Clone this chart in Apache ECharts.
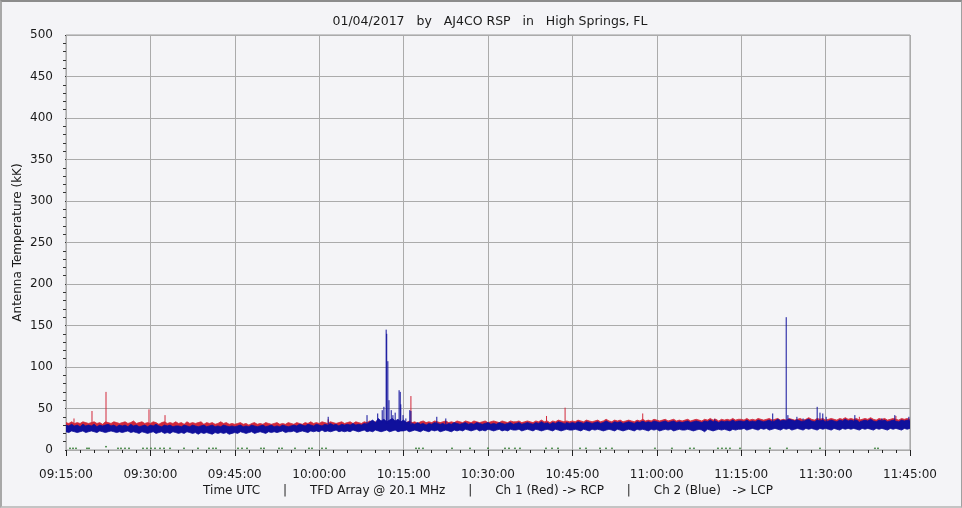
<!DOCTYPE html>
<html>
<head>
<meta charset="utf-8">
<script src="https://cdn.jsdelivr.net/npm/echarts@6/dist/echarts.min.js"></script>
<style>
html,body{margin:0;padding:0;background:#f4f4f7;}
#wrap{position:relative;width:962px;height:508px;}
#chart{position:absolute;left:0;top:0;width:962px;height:508px;}
#frame{position:absolute;left:0;top:0;width:962px;height:508px;box-sizing:border-box;
  border-top:2px solid #8c8c8c;border-left:2px solid #a8a8a8;border-right:1px solid #a0a0a0;border-bottom:2px solid #c4c4c4;pointer-events:none;}
</style>
</head>
<body>
<div id="wrap"><div id="chart"></div><div id="frame"></div></div>
<script>
// ---- data (minutes after 09:15:00 UTC, values in kK) ----
const titleText = "01/04/2017   by   AJ4CO RSP   in   High Springs, FL";
const yAxisName = "Antenna Temperature (kK)";
const xAxisName = "Time UTC      |      TFD Array @ 20.1 MHz      |      Ch 1 (Red) -> RCP      |      Ch 2 (Blue)   -> LCP";
const xTickLabels = ["09:15:00","09:30:00","09:45:00","10:00:00","10:15:00","10:30:00","10:45:00","11:00:00","11:15:00","11:30:00","11:45:00"];

// Ch1 (red) noise band upper envelope, one value every 30 s
const redHi = [
33,32,34,32,33,32,34,33,32,33,34,32,33,31,34,33,32,34,33,32,
33,34,32,33,35,32,33,34,32,33,32,34,33,31,33,34,32,33,32,34,
32,33,31,34,32,33,32,33,34,31,33,32,33,31,32,34,32,33,31,32,
31,32,33,31,32,30,32,33,31,32,31,33,32,31,32,33,31,32,31,33,
32,31,33,32,31,33,32,34,32,33,32,34,33,32,34,33,32,33,34,32,
33,34,32,34,33,32,34,33,35,33,34,32,34,33,35,33,34,35,33,34,
34,33,35,33,34,32,34,35,33,34,33,35,34,33,34,35,33,34,33,35,
34,33,35,34,33,35,34,33,34,35,33,34,35,34,33,35,34,33,35,34,
34,35,33,34,35,34,33,35,34,36,34,35,33,35,34,36,35,34,35,34,
35,34,36,35,34,36,35,34,35,36,34,35,37,35,34,36,35,36,34,35,
36,35,34,36,35,37,35,36,35,37,36,35,36,37,35,36,37,35,36,35,
36,37,35,36,37,36,35,37,36,38,36,37,35,37,36,37,36,38,36,37,
37,36,38,36,37,36,38,37,36,37,38,36,37,38,36,37,36,38,37,36,
37,38,36,37,39,37,36,38,37,38,36,37,38,37,36,38,37,39,37,38,
37,38,36,37,38,37,39,37,36,38,37,38,36,37,38,37,36,38,37,38,
37];
// Ch1 lower envelope, one value per minute (mostly hidden under Ch2)
const redLo = [
26,27,26,27,26,26,27,26,27,26,26,27,26,27,26,
26,26,25,26,25,26,25,26,26,25,26,25,26,25,26,
26,25,26,26,25,26,26,27,26,27,26,27,26,27,27,
27,26,27,28,27,27,28,27,27,28,27,27,28,27,27,
28,27,28,27,28,28,27,28,27,28,28,27,28,27,28,
28,27,29,28,28,27,29,28,28,29,28,27,29,28,28,
28,29,28,28,29,28,28,29,28,28,29,29,28,28,29,
29,28,29,28,29,29,28,29,29,28,29,29,28,29,29,
29,30,29,29,30,29,29,30,29,30,29,29,30,29,29,
30,29,29,30,29,30,29,29,30,29,30,29,29,30,29,30];

// Ch2 (blue) noise band, one value every 30 s
const blueHi = [
30,29,31,29,30,28,31,29,30,29,31,28,30,29,30,31,29,30,28,30,
29,30,28,31,29,30,28,29,30,28,30,29,31,29,28,30,29,30,28,29,
29,28,30,29,28,30,29,28,29,30,28,29,30,28,29,28,30,29,28,29,
28,29,30,28,29,28,30,29,28,29,30,28,29,30,28,29,28,30,29,28,
29,30,29,31,30,29,31,30,29,31,30,29,31,30,32,30,31,29,31,30,
31,30,32,30,31,30,32,31,34,36,33,38,35,37,34,36,38,35,37,34,
36,33,34,32,31,33,31,32,30,32,31,33,32,31,32,30,32,31,33,32,
31,32,33,31,32,31,33,32,31,32,33,31,32,31,33,32,31,32,33,31,
32,33,31,32,33,32,31,33,32,34,32,33,31,33,32,34,33,32,33,32,
33,32,34,33,32,34,33,32,33,34,32,33,35,33,32,34,33,34,32,33,
34,33,32,34,33,35,33,34,33,35,34,33,34,35,33,34,35,33,34,33,
34,35,33,34,35,34,33,35,34,36,34,35,33,35,34,35,34,36,34,35,
35,34,36,34,35,34,36,35,34,35,36,34,35,37,35,36,35,37,36,35,
36,35,34,36,37,35,34,36,35,36,34,35,36,35,34,36,35,37,35,36,
35,36,34,35,36,35,37,35,34,36,35,36,34,35,36,35,34,36,35,36,
35];
const blueLo = [
22,21,23,22,21,22,23,21,22,23,22,21,23,22,21,22,23,22,21,22,
21,22,23,21,22,21,20,22,21,20,21,22,20,21,22,20,21,20,22,21,
20,21,20,22,21,20,21,19,21,20,21,20,19,21,20,21,20,21,19,20,
21,20,22,21,20,21,22,20,21,22,21,20,22,21,22,21,22,23,21,22,
22,23,21,22,23,22,21,23,22,23,22,24,22,23,22,23,24,22,23,22,
23,22,24,23,22,23,24,22,23,22,24,23,22,23,24,22,23,24,22,23,
23,24,22,23,24,23,22,24,23,22,24,23,24,22,23,24,23,22,24,23,
24,23,25,24,23,24,25,23,24,23,25,24,23,24,25,23,24,23,25,24,
24,25,23,24,25,24,23,25,24,23,24,25,24,23,25,24,23,24,25,24,
24,25,24,23,25,24,23,25,24,25,24,23,24,25,24,23,25,24,23,24,
25,24,23,25,24,25,24,23,25,24,25,23,24,25,24,25,23,24,25,24,
24,25,24,23,24,25,24,22,25,24,23,24,25,24,25,24,23,25,24,25,
25,26,24,25,26,25,24,26,25,26,24,25,26,25,24,26,25,26,24,25,
26,25,24,26,25,26,25,24,26,25,26,25,24,26,25,24,26,25,26,25,
26,25,24,26,25,26,25,24,26,25,26,25,24,26,25,26,25,24,26,25,
26];

// isolated spikes: [minute, peak value]
const redSpikes = [[1.42,38],[4.62,47],[7.11,70],[14.75,49],[17.6,42],[46.6,37],[61.3,65],[85.4,41],[88.7,51],[102.5,44],[115.3,38],[141.0,40],[147.5,41]];
const blueSpikes = [[46.6,40],[53.5,42],[55.4,44],[56.2,48],[56.5,52],[56.9,145],[57.0,140],[57.2,107],[57.4,60],[57.8,48],[58.1,42],[58.5,45],
  [59.2,72],[59.4,70],[59.5,55],[59.9,42],[60.4,38],[61.1,48],[61.3,47],[65.9,40],[67.5,38],[115.3,37],[125.6,44],[128.0,160],[128.3,42],
  [129.9,40],[131.0,38],[133.5,52],[134.0,45],[134.5,44],[135.1,40],[140.2,42],[145.0,38],[147.3,42],[149.8,40]];

// green channel points near zero
const greenTimes = [0.71,1.24,1.78,3.73,4.09,7.11,9.24,9.77,10.48,11.2,13.68,14.39,15.1,15.82,16.71,17.42,18.49,20.97,23.46,25.41,26.12,26.66,
  30.57,31.28,32.17,34.65,35.19,37.85,38.39,40.7,43.18,43.72,45.5,46.21,62.2,62.73,63.44,68.6,71.8,75.0,78.02,78.73,79.79,80.68,85.3,86.37,
  87.44,91.35,92.41,94.9,95.97,97.03,104.67,107.69,110.89,111.6,115.87,116.58,117.29,118.0,119.78,125.11,128.13,134.0,143.77,144.31];
const greenVals = [2,2,2,2,2,4,2,2,2,2,2,2,2,2,2,2,2,2,2,2,2,2,2,2,2,2,2,2,2,2,2,2,2,2,2,2,2,2,2,2,2,2,2,2,2,2,2,2,2,2,2,2,2,2,2,2,2,2,2,2,2,2,2,2,2,2];

// ---- build series ----
const RED = '#d2283a', BLUE = '#10109c', GREEN = '#2f7a2f';
const halfMin = redHi.map((_, i) => i * 0.5);
const fullMin = redLo.map((_, i) => i);
function spikeData(spikes, band){
  const out = [];
  spikes.forEach(([t, v]) => {
    const base = band[Math.min(band.length - 1, Math.round(t * 2))] - 2;
    out.push([t, base], [t, v], [t, '-']);
  });
  return out;
}
function bandSeries(tLo, lo, tHi, hi, color){
  return {
    type: 'custom', silent: true, clip: true,
    data: tHi.map((t, i) => [t, hi[i]]),
    encode: {x: 0, y: 1},
    renderItem: function(params, api){
      if (params.dataIndex !== 0) return null;
      const top = tHi.map((t, i) => api.coord([t, hi[i]]));
      const bot = tLo.map((t, i) => api.coord([t, lo[i]]));
      const poly = top.concat(bot.reverse());
      return {type: 'polygon', shape: {points: poly}, style: {fill: color, stroke: color, lineWidth: 0.8}};
    }
  };
}
const chart = echarts.init(document.getElementById('chart'), null, {renderer: 'canvas'});
const FONT = 'DejaVu Sans';
chart.setOption({
  animation: false,
  backgroundColor: '#f4f4f7',
  title: {text: titleText, left: 485, top: 10, textAlign: 'center',
    textStyle: {fontFamily: FONT, fontSize: 12.5, fontWeight: 'normal', color: '#1a1a1a'}},
  grid: {left: 66, right: 52, top: 35, bottom: 58, show: true, borderColor: '#9a9a9a', borderWidth: 1, backgroundColor: 'transparent'},
  xAxis: {
    type: 'value', min: 0, max: 150, interval: 15, offset: 4,
    name: xAxisName, nameLocation: 'middle', nameGap: 31, nameMoveOverlap: false,
    nameTextStyle: {fontFamily: FONT, fontSize: 12, color: '#1a1a1a'},
    axisLine: {show: false},
    axisTick: {show: true, length: 6, lineStyle: {color: '#222'}},
    minorTick: {show: true, splitNumber: 6, length: 3, lineStyle: {color: '#222'}},
    axisLabel: {margin: 15, fontFamily: FONT, fontSize: 12, color: '#1a1a1a',
      formatter: v => xTickLabels[Math.round(v / 15)]},
    splitLine: {show: true, lineStyle: {color: '#ababab', width: 1}}
  },
  yAxis: {
    type: 'value', min: 0, max: 500, interval: 50, offset: 6,
    name: yAxisName, nameLocation: 'middle', nameGap: 36, nameMoveOverlap: false,
    nameTextStyle: {fontFamily: FONT, fontSize: 12, color: '#1a1a1a'},
    axisLine: {show: false},
    axisTick: {show: true, length: 1, lineStyle: {color: '#333'}},
    minorTick: {show: true, splitNumber: 5, length: 3, lineStyle: {color: '#333'}},
    axisLabel: {margin: 7, fontFamily: FONT, fontSize: 12, color: '#1a1a1a'},
    splitLine: {show: true, lineStyle: {color: '#ababab', width: 1}}
  },
  series: [
    bandSeries(fullMin, redLo, halfMin, redHi, RED),
    {type: 'line', symbol: 'none', silent: true, connectNulls: false, lineStyle: {width: 1, color: RED},
      data: spikeData(redSpikes, redHi)},
    bandSeries(halfMin, blueLo, halfMin, blueHi, BLUE),
    {type: 'line', symbol: 'none', silent: true, connectNulls: false, lineStyle: {width: 1, color: BLUE},
      data: spikeData(blueSpikes, blueHi)},
    {type: 'scatter', symbol: 'rect', symbolSize: [2, 1.5], silent: true, itemStyle: {color: GREEN},
      data: greenTimes.map((t, i) => [t, greenVals[i]])}
  ]
});
</script>
</body>
</html>
